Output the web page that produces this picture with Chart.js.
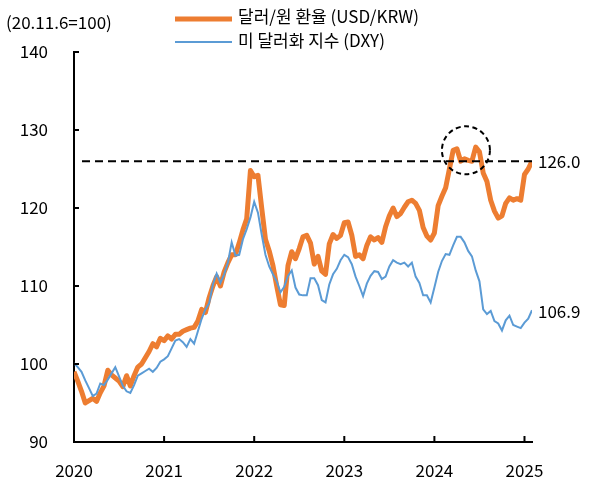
<!DOCTYPE html>
<html>
<head>
<meta charset="utf-8">
<script src="https://cdn.jsdelivr.net/npm/chart.js@4.4.1/dist/chart.umd.min.js"></script>
<style>
html,body{margin:0;padding:0;background:#fff;}
#wrap{width:594px;height:484px;position:relative;}
</style>
</head>
<body>
<div id="wrap"><canvas id="c" width="594" height="484"></canvas></div>
<script>
// semi-monthly observations starting 2020 (index i -> 2020 + i/24)
const startYear = 2020;
const stepsPerYear = 24;
const krw = [
99.0,97.8,96.5,95.0,95.3,95.6,95.2,96.3,97.2,99.2,
98.6,98.2,97.8,97.1,98.5,97.2,98.5,99.6,100.0,100.8,
101.6,102.6,102.2,103.3,103.0,103.6,103.2,103.8,103.8,104.2,
104.4,104.6,104.7,105.5,107.0,106.6,108.5,110.0,111.2,110.0,
111.8,113.0,114.0,114.0,115.5,117.2,118.6,124.8,124.0,124.2,
120.0,116.0,114.5,112.6,110.0,107.6,107.5,112.6,114.4,113.5,
114.8,116.3,116.5,115.5,112.8,113.8,111.9,111.5,115.4,116.6,
116.1,116.5,118.1,118.2,116.5,113.8,114.0,113.5,115.2,116.3,
115.9,116.2,115.6,117.6,119.0,120.0,118.9,119.3,120.1,120.8,
121.0,120.6,119.7,117.5,116.4,115.9,116.8,120.3,121.5,122.6,
125.0,127.4,127.6,126.0,126.3,126.1,126.0,127.8,127.2,124.5,
123.4,121.0,119.6,118.7,119.0,120.6,121.3,121.0,121.2,121.0,
124.3,125.0,126.0
];
const dxy = [
100.1,99.6,99.0,97.9,96.9,95.9,96.2,97.5,97.3,98.0,
98.8,99.6,98.4,97.2,96.5,96.3,97.3,98.5,98.8,99.1,
99.4,99.0,99.5,100.3,100.6,101.0,102.0,103.0,103.2,102.8,
102.2,103.2,102.6,104.2,105.8,107.0,107.8,110.2,111.6,110.4,
111.5,113.0,115.6,113.9,114.0,116.0,117.3,118.8,120.8,119.4,
116.6,114.0,112.5,111.5,110.6,109.2,109.9,111.3,112.0,109.8,
108.9,108.8,108.8,111.0,111.0,110.1,108.2,107.9,110.2,111.5,
112.2,113.3,114.0,113.7,112.8,111.2,110.0,108.7,110.3,111.3,
111.9,111.8,110.9,111.2,112.5,113.3,113.0,112.8,113.0,112.5,
113.0,111.2,110.4,108.8,108.8,107.9,109.8,111.8,113.2,114.1,
114.0,115.2,116.3,116.3,115.6,114.5,113.8,112.0,110.6,107.0,
106.4,106.8,105.5,105.2,104.3,105.6,106.2,105.0,104.8,104.6,
105.3,105.8,106.9
];
const dates = krw.map((_, i) => startYear + i / stepsPerYear);
const yearTicks = [2020, 2021, 2022, 2023, 2024, 2025];
const yTicks = [90, 100, 110, 120, 130, 140];
const refLevel = 126.0;
const endLabels = ['126.0', '106.9'];
const seriesNames = ['달러/원 환율 (USD/KRW)', '미 달러화 지수 (DXY)'];
const unitLabel = '(20.11.6=100)';
const circleCenter = {x: 2024.35, y: 127.4};

const ORANGE = '#ED7D31';
const BLUE = '#5B9BD5';
const FONT = '"Noto Sans CJK KR", "Noto Sans", sans-serif';
const FS = 17;

const toXY = arr => arr.map((v, i) => ({x: dates[i], y: v}));

const overlay = {
  id: 'overlay',
  afterDatasetsDraw(chart) {
    const ctx = chart.ctx;
    const xs = chart.scales.x, ys = chart.scales.y;
    const ca = chart.chartArea;
    ctx.save();
    // reference dashed line
    const yRef = ys.getPixelForValue(refLevel);
    ctx.strokeStyle = '#000';
    ctx.lineWidth = 2;
    ctx.setLineDash([8, 5]);
    ctx.beginPath();
    ctx.moveTo(ca.left + 8, yRef);
    ctx.lineTo(ca.right, yRef);
    ctx.stroke();
    // dashed circle
    ctx.setLineDash([5, 3.5]);
    ctx.beginPath();
    ctx.arc(xs.getPixelForValue(circleCenter.x), ys.getPixelForValue(circleCenter.y), 24, 0, Math.PI * 2);
    ctx.stroke();
    ctx.setLineDash([]);
    // inward ticks
    ctx.lineWidth = 2;
    yTicks.forEach(v => {
      const y = ys.getPixelForValue(v);
      ctx.beginPath();
      ctx.moveTo(ca.left, y);
      ctx.lineTo(ca.left + 5, y);
      ctx.stroke();
    });
    yearTicks.forEach(v => {
      const x = xs.getPixelForValue(v);
      ctx.beginPath();
      ctx.moveTo(x, ca.bottom);
      ctx.lineTo(x, ca.bottom - 6);
      ctx.stroke();
    });
    // end labels
    ctx.fillStyle = '#000';
    ctx.font = FS + 'px ' + FONT;
    ctx.textBaseline = 'middle';
    ctx.textAlign = 'left';
    ctx.fillText(endLabels[0], 538, ys.getPixelForValue(krw[krw.length - 1]));
    ctx.fillText(endLabels[1], 538, ys.getPixelForValue(dxy[dxy.length - 1]) + 1);
    // unit label
    ctx.fillText(unitLabel, 6, 23);
    // legend
    ctx.lineCap = 'butt';
    ctx.strokeStyle = ORANGE;
    ctx.lineWidth = 5;
    ctx.beginPath(); ctx.moveTo(175, 19); ctx.lineTo(232, 19); ctx.stroke();
    ctx.strokeStyle = BLUE;
    ctx.lineWidth = 2;
    ctx.beginPath(); ctx.moveTo(175, 42); ctx.lineTo(232, 42); ctx.stroke();
    ctx.fillText(seriesNames[0], 238, 17);
    ctx.fillText(seriesNames[1], 238, 41);
    ctx.restore();
  }
};

new Chart(document.getElementById('c'), {
  type: 'line',
  data: {
    datasets: [
      {label: seriesNames[1], data: toXY(dxy), borderColor: BLUE, borderWidth: 2, pointRadius: 0, tension: 0, fill: false},
      {label: seriesNames[0], data: toXY(krw), borderColor: ORANGE, borderWidth: 5, pointRadius: 0, tension: 0, fill: false, borderJoinStyle: 'round'}
    ]
  },
  options: {
    responsive: false,
    animation: false,
    devicePixelRatio: 1,
    layout: {padding: {left: 0, top: 52, right: 62, bottom: 0}},
    plugins: {legend: {display: false}, tooltip: {enabled: false}},
    scales: {
      x: {
        type: 'linear',
        min: startYear,
        max: dates[dates.length - 1],
        grid: {display: false},
        border: {display: true, color: '#000', width: 2},
        afterBuildTicks: s => { s.ticks = yearTicks.map(v => ({value: v})); },
        afterFit: s => { s.height = 42; },
        ticks: {color: '#000', font: {family: FONT, size: FS}, padding: 10, maxRotation: 0, autoSkip: false, callback: v => String(v)}
      },
      y: {
        min: 90,
        max: 140,
        grid: {display: false},
        border: {display: true, color: '#000', width: 2},
        afterBuildTicks: s => { s.ticks = yTicks.map(v => ({value: v})); },
        afterFit: s => { s.width = 74; },
        ticks: {color: '#000', font: {family: FONT, size: FS}, padding: 18, callback: v => String(v)}
      }
    }
  },
  plugins: [overlay]
});
</script>
</body>
</html>
